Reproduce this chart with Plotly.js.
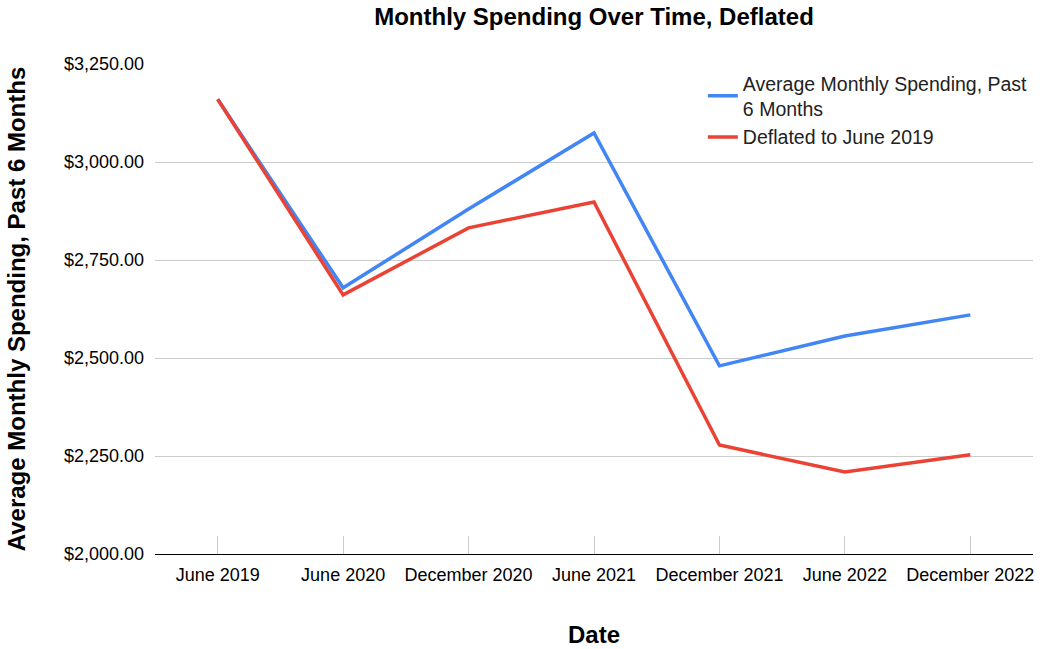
<!DOCTYPE html>
<html>
<head>
<meta charset="utf-8">
<script src="https://cdn.plot.ly/plotly-3.0.1.min.js"></script>
<style>
  body { margin: 0; background: #fff; }
  #chart { width: 1051px; height: 649px; }
</style>
</head>
<body>
<div id="chart"></div>
<script>
  // dates and the two series
  const dates = ['June 2019', 'June 2020', 'December 2020', 'June 2021', 'December 2021', 'June 2022', 'December 2022'];
  const avgSpending = [3160, 2679, 2880, 3074, 2480, 2556, 2610];
  const deflated = [3160, 2661, 2832, 2898, 2278, 2209, 2253];
  const yTicks = [2000, 2250, 2500, 2750, 3000, 3250];

  let trace1 = { x: dates, y: avgSpending, mode: 'lines', line: { color: '#4285F4', width: 3.5 },
                 name: 'Average Monthly Spending, Past<br>6 Months' };
  let trace2 = { x: dates, y: deflated, mode: 'lines', line: { color: '#EA4335', width: 3.5 },
                 name: 'Deflated to June 2019' };

  let layout = {
    width: 1051, height: 649,
    margin: { l: 155, r: 18, t: 64, b: 95 },
    paper_bgcolor: '#fff', plot_bgcolor: '#fff',
    font: { family: 'Liberation Sans, Arial, sans-serif', color: '#000' },
    title: { text: '<b>Monthly Spending Over Time, Deflated</b>', font: { size: 24 },
             x: 0.5, xref: 'paper', y: 0.975, yanchor: 'middle' },
    showlegend: true,
    legend: { x: 0.624, y: 1.0, xanchor: 'left', yanchor: 'top', bgcolor: 'rgba(0,0,0,0)',
              font: { size: 19.5, color: '#222' }, tracegroupgap: 15 },
    xaxis: {
      type: 'category', range: [-0.5, 6.5],
      title: { text: '<b>Date</b>', font: { size: 24 }, standoff: 42 },
      tickfont: { size: 18 }, ticklabelstandoff: 4,
      showgrid: false, showline: true, linecolor: '#000', linewidth: 1.3,
      ticks: 'inside', ticklen: 18, tickcolor: '#ccc', tickwidth: 1
    },
    yaxis: {
      range: [2000, 3250], tickvals: yTicks,
      ticktext: yTicks.map(v => '$' + v.toLocaleString('en-US', { minimumFractionDigits: 2 })),
      title: { text: '<b>Average Monthly Spending, Past 6 Months</b>', font: { size: 24 }, standoff: 31 },
      tickfont: { size: 18 }, ticklabelstandoff: 10,
      gridcolor: '#ccc', gridwidth: 1, zeroline: false, showline: false, ticks: ''
    }
  };

  Plotly.newPlot('chart', [trace1, trace2], layout, { displayModeBar: false, responsive: false });
</script>
</body>
</html>
